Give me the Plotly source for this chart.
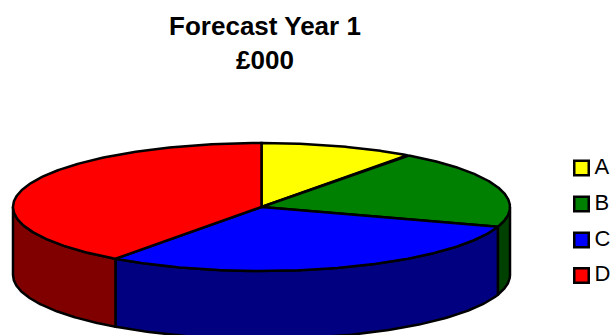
import numpy as np
import plotly.graph_objects as go

categories = ["A", "B", "C", "D"]
values = [10, 20, 30, 40]
top_colors = ["#ffff00", "#008000", "#0000ff", "#ff0000"]
side_colors = ["#808000", "#004000", "#000080", "#800000"]

W, H = 613, 335
CX, CY, RX, RY, DEPTH = 261.5, 207.0, 248.5, 64.0, 68.0
LEG_X = 581.5
LEG_TEXT_X = 594.5
LEG_Y = [168, 204, 240, 275.5]
LINE = dict(color="black", width=2.5)


def ex(a):
    return CX + RX * np.sin(a)


def ey(a):
    return CY - RY * np.cos(a)


fig = go.Figure()
total = sum(values)
edges = np.concatenate([[0], np.cumsum(values)]) / total * 2 * np.pi

# side walls (only the front half, pi/2..3pi/2, is visible)
for i in range(len(values)):
    a0, a1 = max(edges[i], np.pi / 2), min(edges[i + 1], 3 * np.pi / 2)
    if a1 <= a0:
        continue
    t = np.linspace(a0, a1, 120)
    xs = np.concatenate([ex(t), ex(t[::-1]), [ex(t[0])]])
    ys = np.concatenate([ey(t), ey(t[::-1]) + DEPTH, [ey(t[0])]])
    fig.add_trace(go.Scatter(x=xs, y=ys, mode="lines", fill="toself", fillcolor=side_colors[i],
                             line=LINE, showlegend=False, hoverinfo="skip"))

# top slices
for i in range(len(values)):
    t = np.linspace(edges[i], edges[i + 1], 200)
    xs = np.concatenate([[CX], ex(t), [CX]])
    ys = np.concatenate([[CY], ey(t), [CY]])
    fig.add_trace(go.Scatter(x=xs, y=ys, mode="lines", fill="toself", fillcolor=top_colors[i],
                             line=LINE, name=categories[i], showlegend=False,
                             hovertemplate=f"{categories[i]}: {values[i]}<extra></extra>"))

# legend
fig.add_trace(go.Scatter(
    x=[LEG_X] * len(categories), y=LEG_Y, mode="markers",
    marker=dict(symbol="square", size=14.5, color=top_colors, line=dict(color="black", width=2.5)),
    showlegend=False, hoverinfo="skip", cliponaxis=False))
fig.add_trace(go.Scatter(
    x=[LEG_TEXT_X] * len(categories), y=LEG_Y, mode="text",
    text=categories, textposition="middle right",
    textfont=dict(family="Liberation Sans", size=22, color="black"),
    showlegend=False, hoverinfo="skip", cliponaxis=False))

fig.update_layout(
    width=W, height=H, margin=dict(l=0, r=0, t=0, b=0, pad=0, autoexpand=False),
    paper_bgcolor="white", plot_bgcolor="white", showlegend=False,
    title=dict(text="<b>Forecast Year 1<br>£000</b>", x=265 / W, xanchor="center",
               y=1 - 35 / H, yanchor="top",
               font=dict(family="Liberation Sans", size=26, color="black")),
    xaxis=dict(range=[0, W], visible=False, fixedrange=True),
    yaxis=dict(range=[H, 0], visible=False, fixedrange=True),
)
fig.write_html("out.html", config=dict(displayModeBar=False),
               post_script="document.body.style.margin='0';document.body.style.overflow='hidden';")
